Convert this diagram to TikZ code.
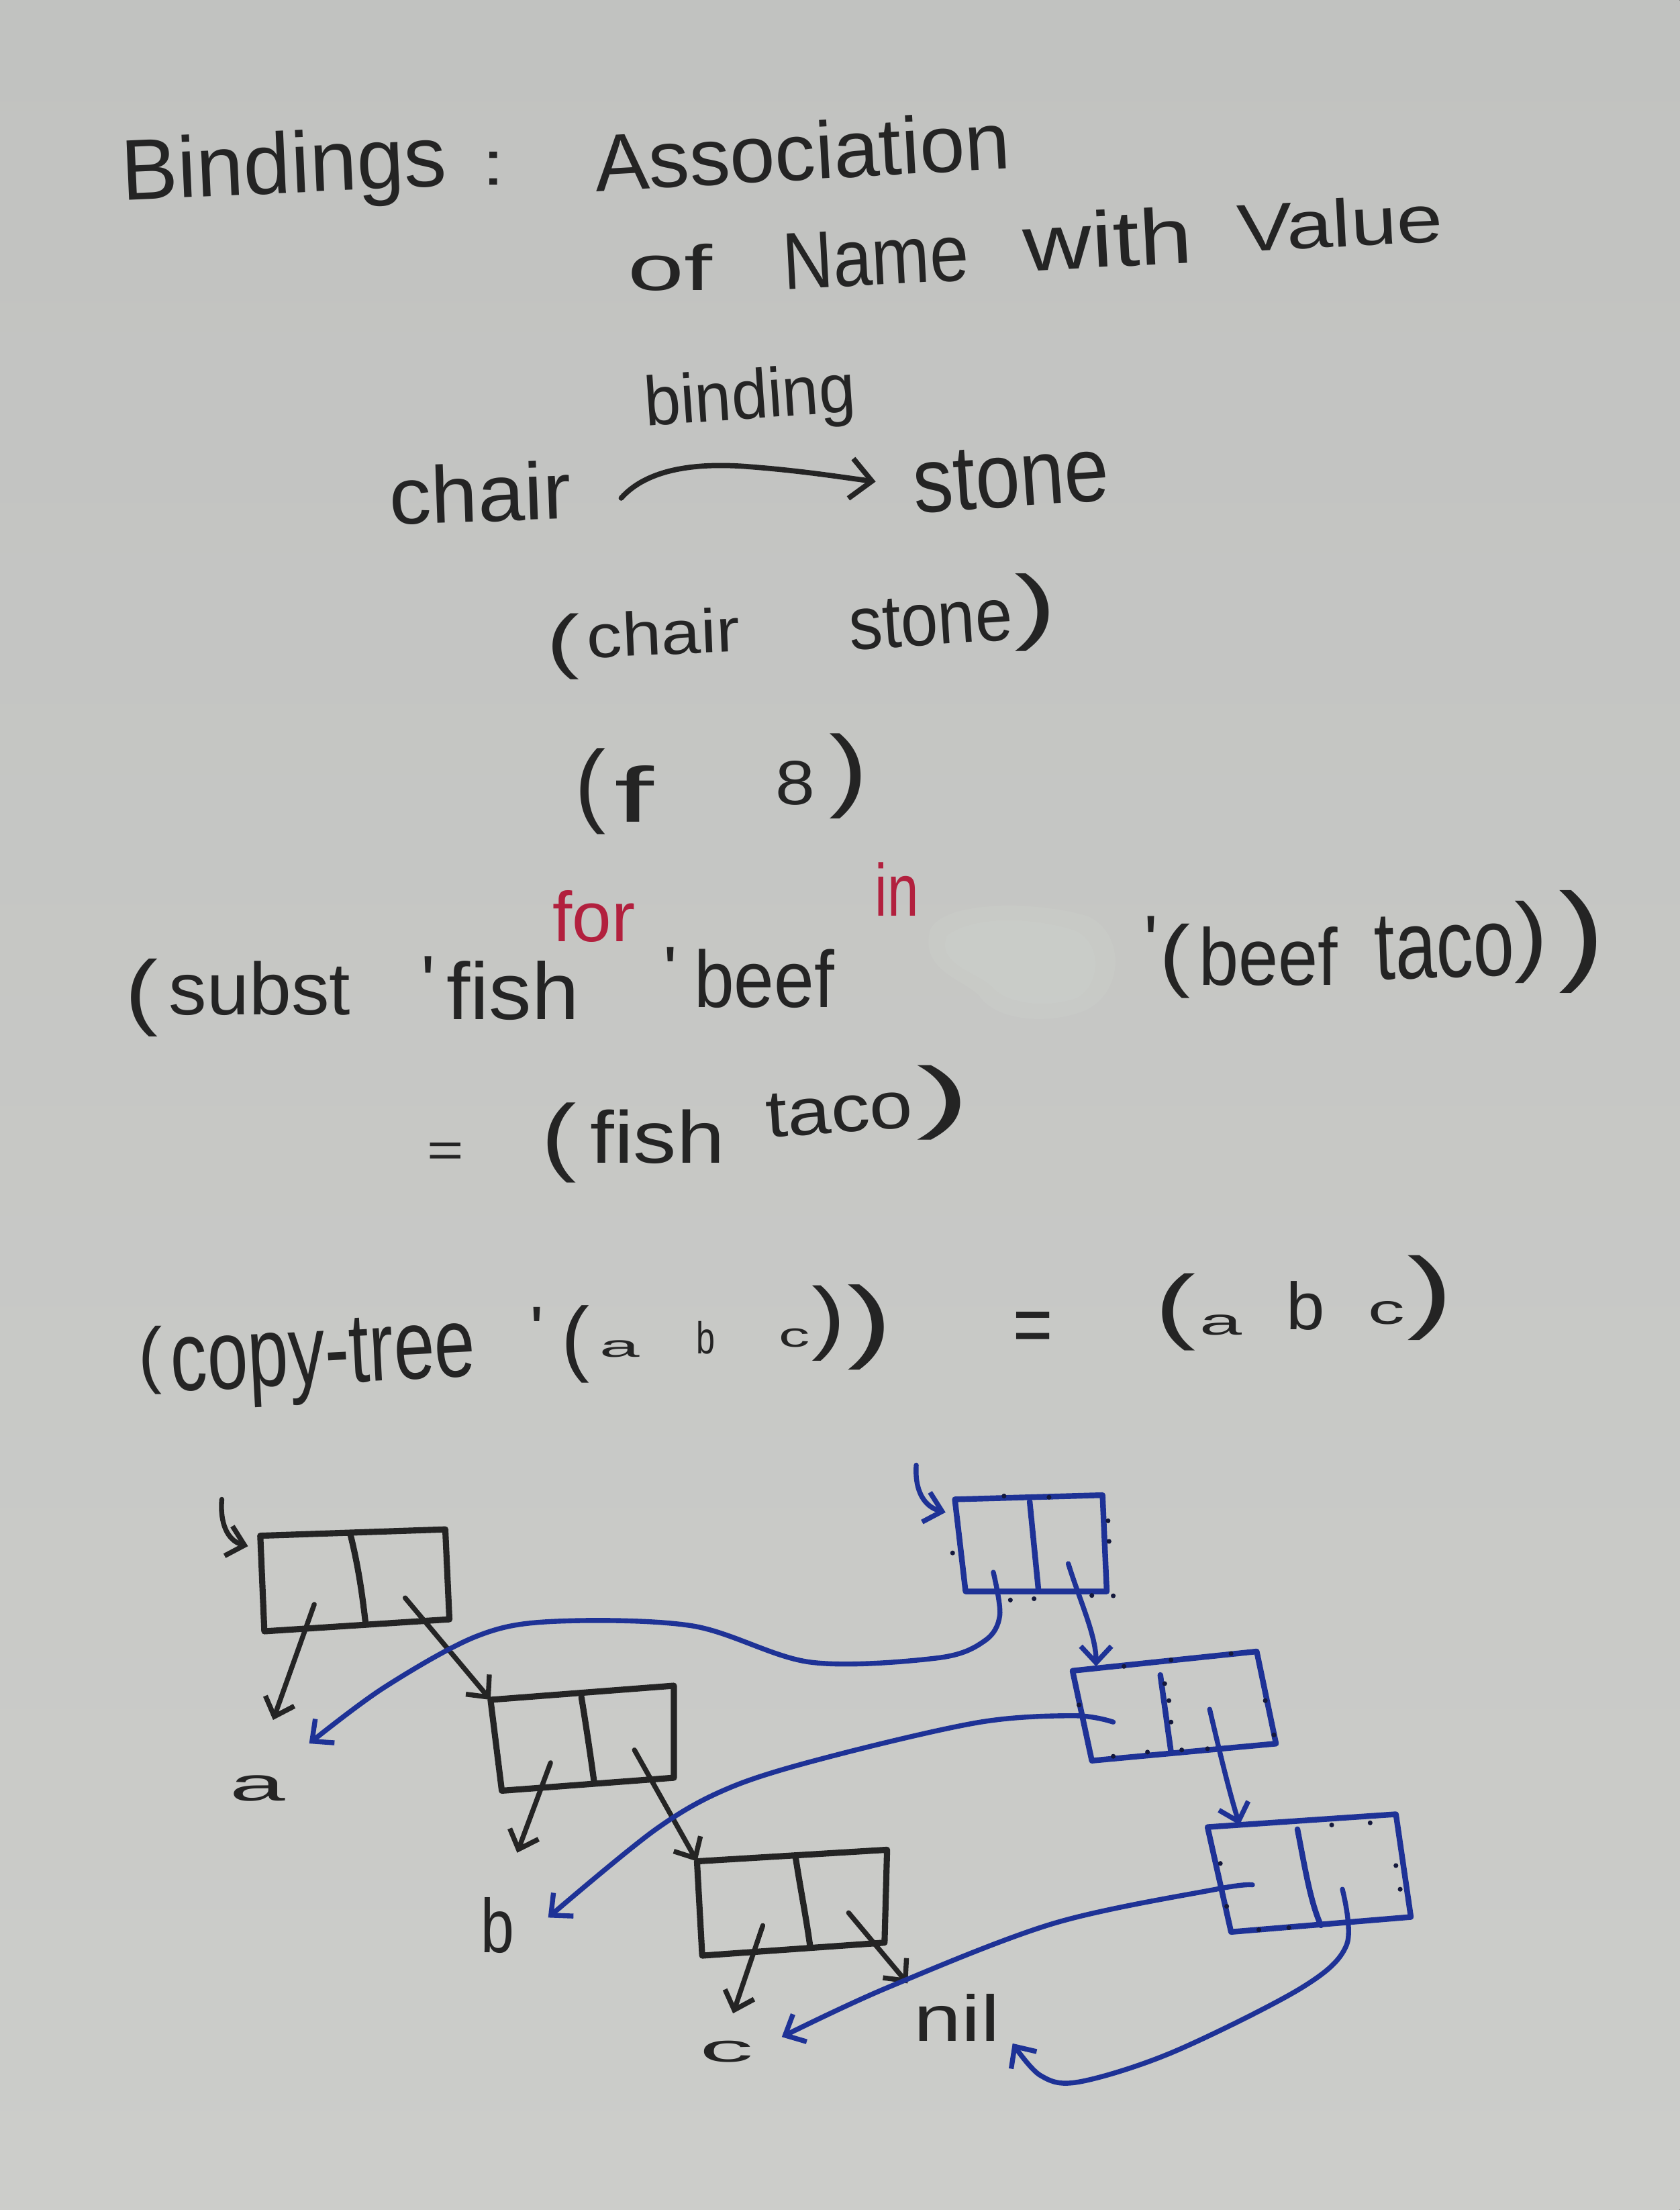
\documentclass[tikz,border=0pt]{standalone}
\usepackage{fontspec}
\setmainfont{Liberation Sans}
\usepackage{graphicx}
\usetikzlibrary{arrows.meta}
\newlength\uu
\setlength\uu{0.21mm}
\definecolor{ink}{RGB}{36,36,36}
\definecolor{blueink}{RGB}{30,50,150}
\definecolor{bluedot}{RGB}{20,24,60}
\definecolor{redink}{RGB}{178,32,62}
\definecolor{papertop}{RGB}{193,194,192}
\definecolor{paperbot}{RGB}{204,205,202}
\definecolor{blobcol}{RGB}{206,211,207}
\newcommand\hw[7]{\node[hwtext,#1] (#2) at (#3,#4) {\resizebox*{#5\uu}{#6\uu}{#7}};}
\begin{document}
\begin{tikzpicture}[x=0.21mm,y=-0.21mm,
  hwtext/.style={anchor=north west,inner sep=0pt,outer sep=0pt,text=ink},
  redtext/.style={text=redink},
  boxline/.style={draw=ink,line width=2.6pt,line join=round,line cap=round},
  blueboxline/.style={draw=blueink,line width=2.4pt,line join=round,line cap=round},
  karr/.style={draw=ink,line width=2.1pt,line cap=round,-{Straight Barb[length=7pt,width=13pt]}},
  barr/.style={draw=blueink,line width=2.1pt,line cap=round,-{Straight Barb[length=7pt,width=13pt]}},
  bindarr/.style={draw=ink,line width=2.2pt,line cap=round,-{Straight Barb[length=9pt,width=17pt]}}]
\fill[top color=papertop,bottom color=paperbot] (0,0) rectangle (1192,1568);
\useasboundingbox (0,0) rectangle (1192,1568);
% smudge
\fill[blobcol,opacity=0.25] (660,660) .. controls (668,640) and (730,638) .. (772,650)
  .. controls (798,662) and (798,702) .. (772,716) .. controls (745,728) and (708,724) .. (696,708)
  .. controls (688,696) and (652,690) .. cycle;
\fill[blobcol,opacity=0.3] (672,664) .. controls (690,650) and (730,650) .. (762,660)
  .. controls (782,668) and (782,698) .. (764,708) .. controls (742,716) and (714,712) .. (704,700)
  .. controls (694,690) and (664,684) .. cycle;
% ---- heading
\hw{rotate=2.5}{bindings}{84.9}{97.7}{231}{57}{Bindings}
\hw{}{colon}{342}{107.8}{16}{23.4}{:}
\hw{rotate=3.2}{assoc}{420.7}{94.4}{295}{42}{Association}
\hw{}{of}{445.8}{172.9}{60}{33.4}{of}
\hw{rotate=3}{name}{554.4}{166.3}{132}{40}{Name}
\hw{rotate=3}{with}{725}{152}{120}{41}{with}
\hw{rotate=3}{value}{877.1}{144.5}{146}{35}{Value}
% ---- binding
\hw{rotate=4}{binding}{455.8}{266.5}{150}{46}{binding}
\hw{rotate=2}{chair}{275.4}{331}{129}{42}{chair}
\hw{rotate=4}{stone}{646.5}{322}{139}{43}{stone}
\coordinate (bindA) at (440.8,353.4);
\coordinate (bindB) at (621.4,341.7);
\draw[bindarr] (bindA) .. controls (458,334) and (490,328) .. (530,331)
  .. controls (570,334) and (600,339) .. (bindB);
% ---- (chair stone)
\hw{}{lpA}{387.9}{435.3}{23.4}{46.8}{(}
\hw{rotate=2.5}{chairB}{415.7}{435.3}{108.6}{32}{chair}
\hw{rotate=3.8}{stoneB}{601.4}{427}{116}{35}{stone}
\hw{}{rpA}{720}{406.9}{30}{55.1}{)}
% ---- (f 8)
\hw{}{lpB}{407.8}{531}{22}{61}{(}
\hw{}{fB}{436}{543}{28}{40}{f}
\hw{}{eight}{550.3}{539.8}{28}{31.4}{8}
\hw{}{rpB}{588.7}{520.3}{27.6}{60.4}{)}
% ---- subst
\hw{redtext}{for}{392.3}{631.9}{58.5}{36.7}{for}
\hw{redtext}{in}{621}{611.8}{31}{38}{in}
\hw{}{lpC}{88.8}{680.3}{23.4}{55.2}{(}
\hw{}{subst}{120}{681.9}{128.6}{38.5}{subst}
\hw{}{qa}{299}{678.6}{10}{37}{\textquotesingle}
\hw{}{fish}{317}{682}{94}{42}{fish}
\hw{}{qb}{471}{672}{10}{32}{\textquotesingle}
\hw{}{beef}{492.6}{673.6}{99.4}{41.8}{beef}
\hw{}{qc}{812}{650}{10}{36}{\textquotesingle}
\hw{}{lpD}{823}{655.6}{22}{52.8}{(}
\hw{}{beefB}{850.7}{657.4}{98.5}{42}{beef}
\hw{rotate=2}{taco}{974.7}{651}{99}{45}{taco}
\hw{}{rpD}{1075}{639.2}{23.7}{58.3}{)}
\hw{}{rpDD}{1106}{631.9}{32.8}{72.9}{)}
% ---- = (fish taco)
\hw{}{eqA}{303.3}{810.7}{26}{17.2}{=}
\hw{}{lpE}{384.3}{782.3}{25}{56.8}{(}
\hw{}{fishB}{419}{787.3}{95.3}{38.4}{fish}
\hw{rotate=4}{tacoB}{542.7}{776.6}{104}{31}{taco}
\hw{}{rpE}{650.5}{755.8}{38.3}{52.9}{)}
% ---- copy-tree
\hw{}{lpF}{98.4}{941}{16.7}{48.5}{(}
\hw{rotate=3}{copytree}{120}{942}{216}{60}{copy-tree}
\hw{}{qd}{376}{927.6}{10}{32}{\textquotesingle}
\hw{}{lpG}{398.6}{926}{20}{55}{(}
\hw{}{aA}{425.8}{951}{28.4}{12}{a}
\hw{}{bA}{494.3}{937.7}{13.3}{23.3}{b}
\hw{}{cA}{552.8}{942.7}{22}{13.3}{c}
\hw{}{rpG}{576}{912}{24}{53.5}{)}
\hw{}{rpGG}{601.5}{911.5}{32}{60.5}{)}
\hw{}{eqB}{719}{930.8}{28.2}{29.6}{=}
\hw{}{lpH}{819.7}{903.5}{29.2}{54.7}{(}
\hw{}{aB}{851.5}{932.7}{30}{14.5}{a}
\hw{}{bB}{912.7}{908.9}{27.3}{34.7}{b}
\hw{}{cB}{971}{923.5}{26}{16.5}{c}
\hw{}{rpH}{998.5}{890.7}{32.8}{60.2}{)}
% ---- labels of the cells
\hw{}{la}{162.9}{1259.8}{39.3}{18.3}{a}
\hw{}{lb}{341.5}{1346.4}{23.7}{39.6}{b}
\hw{}{lc}{496.5}{1448.2}{38.2}{15.2}{c}
\hw{}{lnil}{648.7}{1414.8}{60.8}{33.4}{nil}
% ---- black cons cells
\coordinate (k1tl) at (184.7,1089.6); \coordinate (k1tr) at (316,1085.1);
\coordinate (k1br) at (318.9,1148.9); \coordinate (k1bl) at (187.6,1157.4);
\coordinate (k1dt) at (248.5,1088.1); \coordinate (k1db) at (259.5,1152.5);
\coordinate (k2tl) at (348.1,1206); \coordinate (k2tr) at (478.2,1196);
\coordinate (k2br) at (478.2,1261.3); \coordinate (k2bl) at (356.1,1270.5);
\coordinate (k2dt) at (412.6,1204.2); \coordinate (k2db) at (421.7,1265);
\coordinate (k3tl) at (494.6,1320.6); \coordinate (k3tr) at (629.5,1312.4);
\coordinate (k3br) at (627.7,1378.3); \coordinate (k3bl) at (498.3,1387.5);
\coordinate (k3dt) at (564.7,1318.5); \coordinate (k3db) at (574.9,1381);
\draw[boxline] (k1tl) -- (k1tr) -- (k1br) -- (k1bl) -- cycle;
\draw[boxline] (k1dt) .. controls (254,1110) and (257,1130) .. (k1db);
\draw[boxline] (k2tl) -- (k2tr) -- (k2br) -- (k2bl) -- cycle;
\draw[boxline] (k2dt) .. controls (416,1225) and (419,1245) .. (k2db);
\draw[boxline] (k3tl) -- (k3tr) -- (k3br) -- (k3bl) -- cycle;
\draw[boxline] (k3dt) .. controls (568,1340) and (572,1360) .. (k3db);
% black pointers
\coordinate (k0s) at (157.4,1063.8); \coordinate (k0e) at (176,1097);
\draw[karr] (k0s) .. controls (156,1080) and (161,1093) .. (k0e);
\coordinate (k1car) at (223,1138.3); \coordinate (k1cart) at (193.8,1220.3);
\coordinate (k1cdr) at (287.5,1133.7);
\coordinate (k2car) at (390.7,1250.7); \coordinate (k2cart) at (367,1314.5);
\coordinate (k2cdr) at (450.2,1241.6);
\coordinate (k3car) at (541.3,1366.2); \coordinate (k3cart) at (520.2,1428.5);
\coordinate (k3cdr) at (602.2,1357.1); \coordinate (k3cdrt) at (644.1,1407.2);
\draw[karr] (k1car) -- (k1cart);
\draw[karr] (k1cdr) -- (k2tl);
\draw[karr] (k2car) -- (k2cart);
\draw[karr] (k2cdr) -- (k3tl);
\draw[karr] (k3car) -- (k3cart);
\draw[karr] (k3cdr) -- (k3cdrt);
% ---- blue cons cells
\coordinate (u1tl) at (677.6,1063.8); \coordinate (u1tr) at (782.4,1060.8);
\coordinate (u1br) at (785.4,1129.1); \coordinate (u1bl) at (685.2,1129.1);
\coordinate (u1dt) at (730.7,1065.3); \coordinate (u1db) at (736.8,1127);
\coordinate (u2tl) at (761.1,1185.4); \coordinate (u2tr) at (891.8,1171.7);
\coordinate (u2br) at (905.5,1237.1); \coordinate (u2bl) at (774.8,1249.2);
\coordinate (u2dt) at (823.4,1188.4); \coordinate (u2db) at (831,1243.1);
\coordinate (u3tl) at (856.9,1296.3); \coordinate (u3tr) at (990.6,1287.2);
\coordinate (u3br) at (1001.2,1360.1); \coordinate (u3bl) at (873.6,1370.7);
\coordinate (u3dt) at (920.7,1297.8); \coordinate (u3db) at (937.4,1366);
\draw[blueboxline] (u1tl) -- (u1tr) -- (u1br) -- (u1bl) -- cycle;
\draw[blueboxline] (u1dt) -- (u1db);
\draw[blueboxline] (u2tl) -- (u2tr) -- (u2br) -- (u2bl) -- cycle;
\draw[blueboxline] (u2dt) -- (u2db);
\draw[blueboxline] (u3tl) -- (u3tr) -- (u3br) -- (u3bl) -- cycle;
\draw[blueboxline] (u3dt) .. controls (926,1325) and (930,1350) .. (u3db);
% dotted marks along the blue cells
\foreach \p in {(712.5,1061.4),(744.4,1062.3),(786.3,1079),(787,1093.6),(790,1132.2),(676,1101.8),
  (717,1135.2),(733.8,1134.3),(774.8,1132),(797.6,1182.3),(831,1177.8),(873.6,1173.2),
  (826.5,1194.5),(829.5,1206.6),(831,1221.8),(897.9,1206.6),(904,1230.9),(790,1246.1),
  (814.3,1243.1),(838.6,1241.6),(856.9,1240.7),(765.7,1209.7),(945,1294.8),(972.3,1293.3),
  (990.6,1323.6),(993.6,1340.4),(893.3,1369.2),(914.6,1367.7),(866,1322.1),(870.5,1352.5)}
  \fill[bluedot] \p circle (1.7);
% blue pointers
\coordinate (u0s) at (650.2,1039.5); \coordinate (u0e) at (671,1073);
\draw[barr] (u0s) .. controls (649,1058) and (656,1069) .. (u0e);
\coordinate (u1car) at (704.9,1115.5); \coordinate (atip) at (219.4,1237);
\coordinate (u1cdr) at (758.1,1109.4); \coordinate (u2top) at (777.8,1182.3);
\coordinate (u2car) at (790,1221.8); \coordinate (btip) at (389,1360.5);
\coordinate (u2cdr) at (858.4,1212.7); \coordinate (u3top) at (879.6,1294.8);
\coordinate (u3car) at (888.8,1337.3); \coordinate (ctip) at (554.8,1445.2);
\coordinate (u3cdr) at (952.6,1340.4); \coordinate (niltip) at (718.6,1449.8);
\draw[barr] plot[smooth,tension=0.55] coordinates {(u1car) (709.5,1145.9) (698.8,1164.1) (665.4,1176.3)
  (575,1179.3) (491,1153.5) (392.5,1150.4) (338,1161) (272.2,1197.5) (atip)};
\draw[barr] (u1cdr) .. controls (766,1135) and (777.8,1160) .. (u2top);
\draw[barr] plot[smooth,tension=0.55] coordinates {(u2car) (762.6,1217.3) (695.8,1221.8) (594,1245)
  (520.2,1267.4) (465.5,1297.8) (btip)};
\draw[barr] (u2cdr) .. controls (866,1245) and (872,1270) .. (u3top);
\draw[barr] plot[smooth,tension=0.55] coordinates {(u3car) (863,1340.4) (747.5,1364.7) (629.5,1410.3) (ctip)};
\draw[barr] plot[smooth,tension=0.55] coordinates {(u3cdr) (955.6,1379.9) (923.7,1410.3) (832.5,1455.9)
  (765.7,1477.1) (738.3,1472.5) (niltip)};
\end{tikzpicture}
\end{document}
